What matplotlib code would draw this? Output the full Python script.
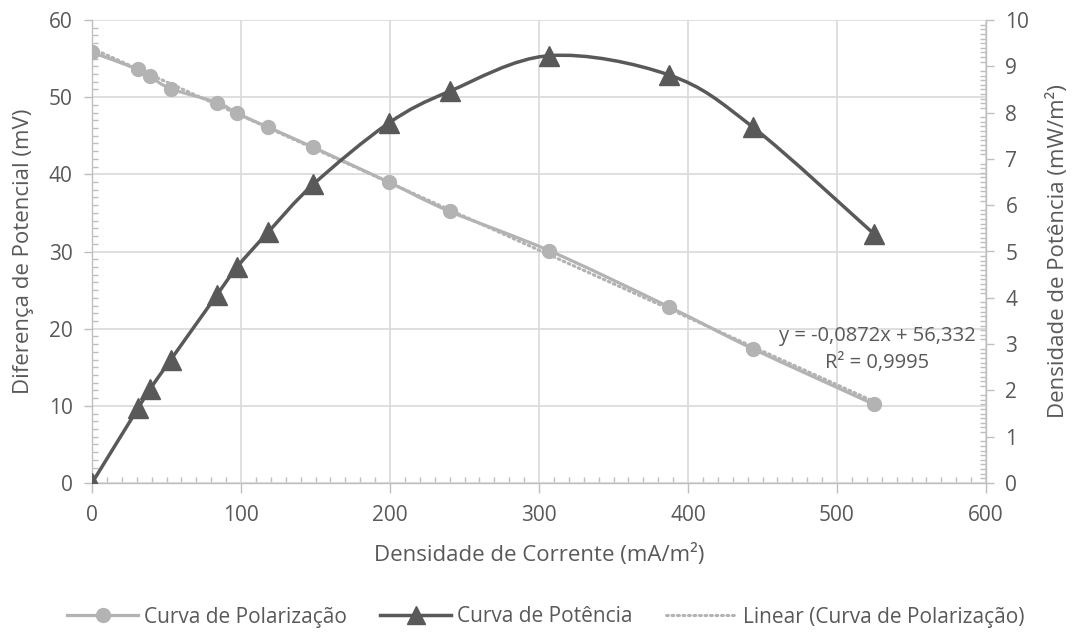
import matplotlib
matplotlib.use("Agg")
import matplotlib.pyplot as plt
from matplotlib.path import Path
from matplotlib.patches import PathPatch
from matplotlib.lines import Line2D
from matplotlib.ticker import MultipleLocator

plt.rcParams['font.family'] = ['Open Sans', 'DejaVu Sans']

# densidade de corrente (mA/m2)
corrente = [0, 31, 39, 52.8, 84, 97.5, 118.3, 148.5, 199, 240, 307, 387.5, 443.4, 524.8]
# diferenca de potencial (mV)
potencial = [55.8, 53.6, 52.7, 51.1, 49.3, 47.9, 46.1, 43.5, 39.0, 35.2, 30.1, 22.8, 17.4, 10.2]
# densidade de potencia (mW/m2)
potencia = [0, 1.62, 2.03, 2.66, 4.07, 4.67, 5.42, 6.45, 7.77, 8.46, 9.23, 8.81, 7.69, 5.38]

slope = -0.0872
intercept = 56.332
r2 = 0.9995

GRID = '#d9d9d9'
SPINE = '#bfbfbf'
TXT = '#595959'
LIGHT = '#b3b3b3'
DARK = '#595959'


def smooth_path(xs, ys):
    # curva suavizada estilo Excel (Bezier cubica, tensao 1/6)
    pts = list(zip(xs, ys))
    n = len(pts)
    verts = [pts[0]]
    codes = [Path.MOVETO]
    for i in range(n - 1):
        p0 = pts[i - 1] if i > 0 else pts[i]
        p1 = pts[i]
        p2 = pts[i + 1]
        p3 = pts[i + 2] if i + 2 < n else pts[i + 1]
        c1 = (p1[0] + (p2[0] - p0[0]) / 6, p1[1] + (p2[1] - p0[1]) / 6)
        c2 = (p2[0] - (p3[0] - p1[0]) / 6, p2[1] - (p3[1] - p1[1]) / 6)
        verts += [c1, c2, p2]
        codes += [Path.CURVE4] * 3
    return Path(verts, codes)


fig = plt.figure(figsize=(10.75, 6.38), dpi=100)
fig.subplots_adjust(left=92 / 1075, right=986 / 1075, bottom=1 - 483 / 638, top=1 - 20 / 638)
ax = fig.add_subplot(111)
ax2 = ax.twinx()

# curva de polarizacao (eixo principal)
ax.add_patch(PathPatch(smooth_path(corrente, potencial), fill=False, edgecolor=LIGHT,
                       lw=2.3, capstyle='round', zorder=3))
ax.plot(corrente, potencial, ls='none', marker='o', ms=10, color=LIGHT, zorder=4)

# linha de tendencia linear
xt = [corrente[0], corrente[-1]]
ax.plot(xt, [slope * v + intercept for v in xt], ls=(0, (0.6, 1.2)), lw=2.2,
        color=LIGHT, dash_capstyle='round', zorder=2)
ax.text(527, 17.3, 'y = -0,0872x + 56,332\nR² = 0,9995', ha='center', va='center',
        fontsize=14.5, color=TXT, linespacing=1.45, zorder=5)

# curva de potencia (eixo secundario)
ax2.add_patch(PathPatch(smooth_path(corrente, potencia), fill=False, edgecolor=DARK,
                        lw=2.5, capstyle='round', zorder=3))
ax2.plot(corrente, potencia, ls='none', marker='^', ms=14, color=DARK, zorder=4)

ax.set_xlim(0, 600)
ax.set_ylim(0, 60)
ax2.set_ylim(0, 10)

ax.xaxis.set_major_locator(MultipleLocator(100))
ax.xaxis.set_minor_locator(MultipleLocator(10))
ax.yaxis.set_major_locator(MultipleLocator(10))
ax.yaxis.set_minor_locator(MultipleLocator(1))
ax2.yaxis.set_major_locator(MultipleLocator(1))
ax2.yaxis.set_minor_locator(MultipleLocator(0.1))

ax.grid(True, which='major', color=GRID, lw=1.2)
ax.set_axisbelow(True)

for a in (ax, ax2):
    for s in a.spines.values():
        s.set_color(SPINE)
        s.set_linewidth(1.0)
    a.spines['top'].set_visible(False)
    a.tick_params(which='major', direction='out', length=6, width=1, color=SPINE,
                  labelcolor=TXT, labelsize=15, pad=8)
    a.tick_params(which='minor', direction='in', length=4, width=1, color=SPINE)
ax.spines['right'].set_visible(False)
ax2.spines['left'].set_visible(False)
ax2.spines['bottom'].set_visible(False)
ax.tick_params(axis='x', which='major', length=7, pad=9)

ax.set_xlabel('Densidade de Corrente (mA/m²)', fontsize=16, color=TXT)
ax.set_ylabel('Diferença de Potencial (mV)', fontsize=16, color=TXT)
ax2.set_ylabel('Densidade de Potência (mW/m²)', fontsize=16, color=TXT)
ax.xaxis.set_label_coords(0.5, (483 - 555) / 463)
ax.xaxis.label.set_va('center')
ax.yaxis.set_label_coords((24 - 92) / 894, 0.5)
ax.yaxis.label.set_va('center')
ax2.yaxis.set_label_coords((1058 - 92) / 894, 0.5)
ax2.yaxis.label.set_va('center')

handles = [
    Line2D([], [], color=LIGHT, lw=2.3, marker='o', ms=10),
    Line2D([], [], color=DARK, lw=2.5, marker='^', ms=13),
    Line2D([], [], color=LIGHT, lw=2.2, ls=(0, (0.6, 1.2)), dash_capstyle='round'),
]
labels = ['Curva de Polarização', 'Curva de Potência', 'Linear (Curva de Polarização)']
fig.legend(handles, labels, loc='center', bbox_to_anchor=(546 / 1075, 1 - 617 / 638),
           ncol=3, frameon=False, handlelength=3.4, columnspacing=1.6, handletextpad=0.3,
           fontsize=15, labelcolor=TXT, borderpad=0, borderaxespad=0)

fig.savefig('out.png', dpi=100)
